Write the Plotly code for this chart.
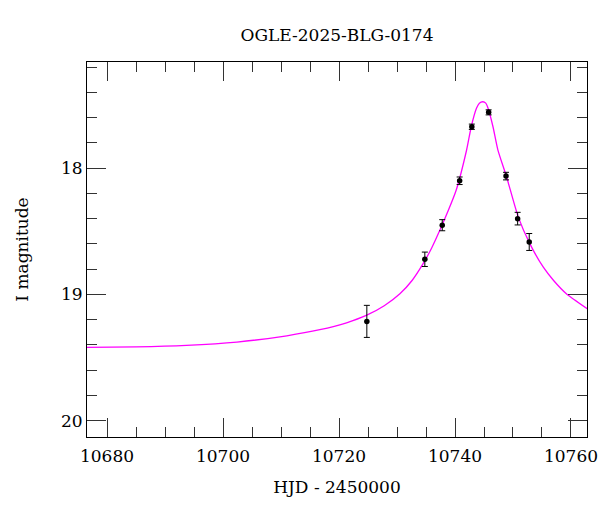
import plotly.graph_objects as go

# observed data (HJD - 2450000, I mag, error)
hjd = [10724.8, 10734.8, 10737.8, 10740.8, 10742.9, 10745.8, 10748.8, 10750.8, 10752.8]
mag = [19.214, 18.722, 18.452, 18.100, 17.672, 17.558, 18.063, 18.400, 18.585]
err = [0.127, 0.057, 0.044, 0.030, 0.021, 0.020, 0.030, 0.050, 0.067]

# model curve samples
model_hjd = [10676.5, 10685.0, 10693.7, 10702.4, 10711.0, 10716.7, 10721.3, 10724.7,
             10727.8, 10730.5, 10732.6, 10734.5, 10736.0, 10737.4, 10738.8, 10740.2,
             10742.0, 10742.8, 10743.7, 10744.2, 10744.8, 10745.3, 10745.7, 10746.55,
             10747.4, 10748.9, 10750.9, 10752.9, 10755.2, 10757.0, 10759.2, 10762.8]
model_mag = [19.420, 19.416, 19.404, 19.378, 19.328, 19.280, 19.225, 19.167,
             19.090, 18.995, 18.890, 18.757, 18.630, 18.490, 18.340, 18.175,
             17.856, 17.672, 17.526, 17.485, 17.474, 17.485, 17.526, 17.672,
             17.857, 18.070, 18.386, 18.598, 18.783, 18.890, 18.995, 19.114]

x_ticks = [10680, 10700, 10720, 10740, 10760]
y_ticks = [18, 19, 20]

font = "DejaVu Serif"

fig = go.Figure()
fig.add_trace(go.Scatter(x=model_hjd, y=model_mag, mode="lines",
                         line=dict(color="#ff00ff", width=1.3, shape="spline", smoothing=0.6),
                         hoverinfo="skip", showlegend=False))
fig.add_trace(go.Scatter(x=hjd, y=mag, mode="markers",
                         marker=dict(color="black", size=5.5),
                         error_y=dict(type="data", array=err, color="black", thickness=1, width=3),
                         showlegend=False))

axis_common = dict(showgrid=False, zeroline=False, showline=True, linecolor="black", linewidth=1,
                   mirror="allticks", ticks="inside", ticklen=19, tickcolor="#333",
                   automargin=False,
                   tickfont=dict(family=font, size=17, color="black"))

fig.update_xaxes(range=[10676.55, 10762.76], tickvals=x_ticks, ticktext=[str(v) for v in x_ticks],
                 minor=dict(ticks="inside", ticklen=10, dtick=5, tick0=10680, tickcolor="#333"),
                 ticklabelstandoff=4,
                 title=dict(text="HJD - 2450000", font=dict(family=font, size=17, color="black"), standoff=15),
                 **axis_common)
fig.update_yaxes(range=[20.13, 17.159], tickvals=y_ticks, ticktext=[str(v) for v in y_ticks],
                 minor=dict(ticks="inside", ticklen=10, dtick=0.2, tick0=18, tickcolor="#333"),
                 title=dict(text="I magnitude", font=dict(family=font, size=17, color="black"), standoff=28),
                 **axis_common)

fig.update_layout(width=600, height=512, margin=dict(l=87, r=13, t=62, b=75),
                  paper_bgcolor="white", plot_bgcolor="white",
                  title=dict(text="OGLE-2025-BLG-0174", x=(87 + 587) / 2 / 600, xanchor="center",
                             y=1 - 35 / 512, yanchor="middle",
                             font=dict(family=font, size=17, color="black")))

fig.write_html("out.html")
